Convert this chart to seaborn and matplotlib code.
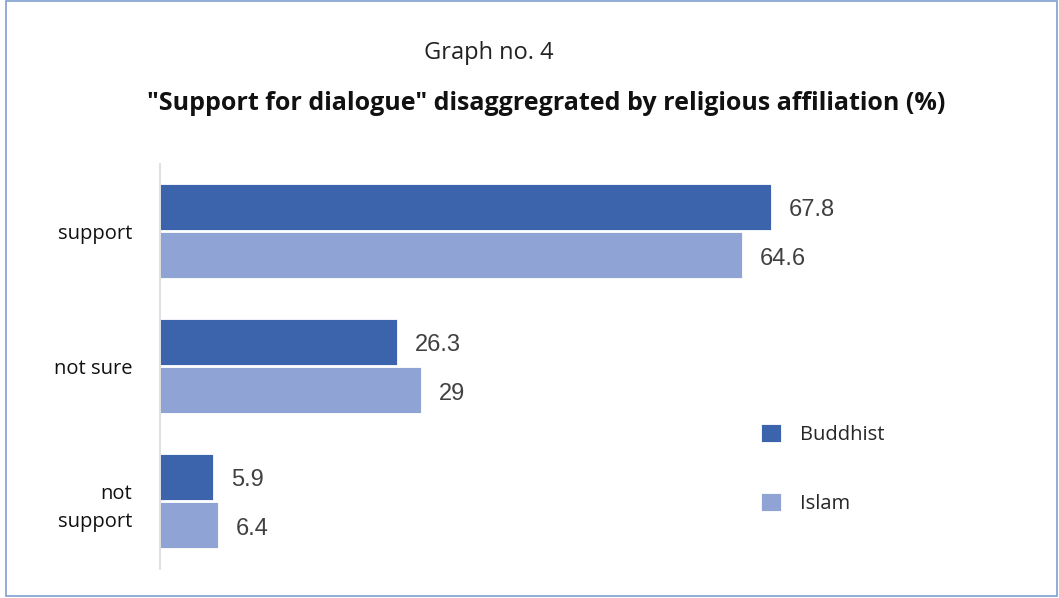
import matplotlib
matplotlib.use("Agg")
import matplotlib.pyplot as plt
from matplotlib.patches import Rectangle
import seaborn as sns
import pandas as pd

# Survey responses by religious affiliation (%)
categories = ["support", "not sure", "not\nsupport"]
buddhist = [67.8, 26.3, 5.9]
islam = [64.6, 29, 6.4]
groups = ["Buddhist", "Islam"]
colors = ["#3c64ac", "#8fa4d4"]

df = pd.DataFrame({
    "response": categories * 2,
    "value": buddhist + islam,
    "group": [groups[0]] * 3 + [groups[1]] * 3,
})

sns.set_theme(style="white")
plt.rcParams["font.family"] = ["Open Sans", "DejaVu Sans"]

W, H = 1059, 598
fig = plt.figure(figsize=(W / 100, H / 100), dpi=100)
fig.patch.set_facecolor("white")

# axes: left edge at x=160 px, 9.01 px per percentage point
x_max = 95
ax = fig.add_axes([160 / W, 29.5 / H, x_max * 9.01 / W, 405 / H])

sns.barplot(data=df, x="value", y="response", hue="group", orient="h",
            palette=colors, saturation=1, width=0.72, gap=0.05, ax=ax,
            legend=True, edgecolor="white", linewidth=0.6)

ax.set_xlim(0, x_max)
ax.set_ylim(2.5, -0.5)
ax.set_xlabel("")
ax.set_ylabel("")
ax.set_xticks([])
for s in ["top", "right", "bottom"]:
    ax.spines[s].set_visible(False)
ax.spines["left"].set_color("#d9d9d9")
ax.spines["left"].set_linewidth(1.2)
ax.tick_params(axis="y", length=0, pad=20)
for lbl in ax.get_yticklabels():
    lbl.set_fontsize(14.5)
    lbl.set_color("#111111")
    lbl.set_horizontalalignment("right")
    lbl.set_multialignment("right")
    lbl.set_linespacing(1.6)

for cont in ax.containers:
    anns = ax.bar_label(cont, labels=[f"{v:g}" for v in cont.datavalues],
                        padding=13, fontsize=17, color="#404040",
                        family="Liberation Sans")
    for a in anns:
        a.xyann = (13, -2.5)

handles, labels = ax.get_legend_handles_labels()
ax.legend(handles, labels, loc="center left",
          bbox_to_anchor=(743 / W, 1 - 469 / H), bbox_transform=fig.transFigure,
          frameon=False, fontsize=14.5, handlelength=1.0, handleheight=1.0,
          labelspacing=2.35, handletextpad=0.95)

fig.text(489 / W, 1 - 53 / H, "Graph no. 4", ha="center", va="center",
         fontsize=17, color="#222222")
fig.text(546 / W, 1 - 104 / H,
         "\"Support for dialogue\" disaggregrated by religious affiliation (%)",
         ha="center", va="center", fontsize=18, fontweight="bold",
         color="#111111")

fig.add_artist(Rectangle((6 / W, 2 / H), (1057 - 6) / W, (597 - 2) / H,
                         transform=fig.transFigure, fill=False,
                         edgecolor="#7f9fcf", linewidth=1.2))

fig.savefig("out.png", dpi=100, facecolor="white")
